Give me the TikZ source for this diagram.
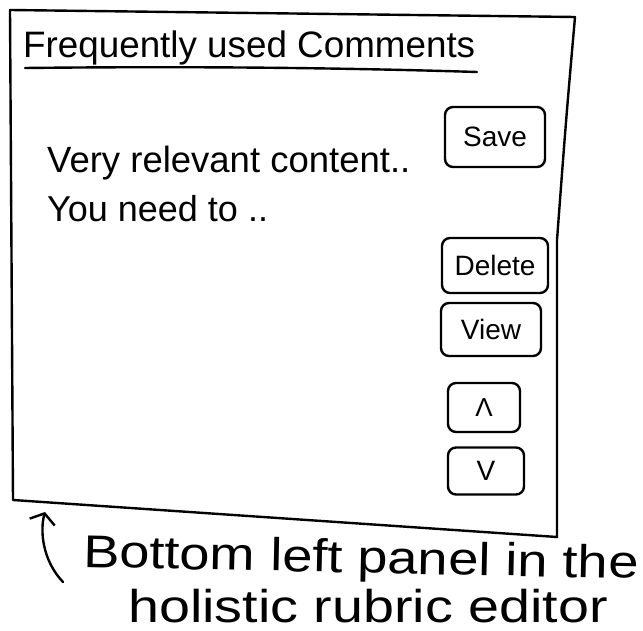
\documentclass[tikz,border=0pt]{standalone}
\usepackage{fontspec}
\setmainfont{Liberation Sans}
\usetikzlibrary{arrows.meta}
\tikzset{
  ink/.style={line width=2.4pt, line join=round, line cap=round, black},
  btn/.style={ink, draw, rounded corners=8pt, inner sep=0pt, font=\fontsize{28}{30}\selectfont},
  txt/.style={inner sep=0pt, anchor=base west},
  note/.style={txt, font=\fontsize{46}{50}\selectfont},
}
\begin{document}
\begin{tikzpicture}[x=1pt,y=-1pt]
\useasboundingbox (0,0) rectangle (643,631);
% outer panel frame
\coordinate (tl) at (10,10);
\coordinate (tr) at (575,17);
\coordinate (rm) at (557,240);
\coordinate (br) at (557,537);
\coordinate (bl) at (13,500);
\draw[ink] (tl) -- (tr) .. controls (566,120) .. (rm) -- (br) -- (bl) -- cycle;
% title
\node[txt, font=\fontsize{36.8}{40}\selectfont] (title) at (23,58) {Frequently used Comments};
\coordinate (ulA) at (25,68);
\coordinate (ulB) at (477,72);
\draw[ink] (ulA) .. controls (200,66) and (350,68) .. (ulB);
% content
\node[txt, font=\fontsize{36.5}{40}\selectfont] (c1) at (47,173) {Very relevant content..};
\node[txt, font=\fontsize{36}{40}\selectfont] (c2) at (47,222) {You need to ..};
% buttons
\node[btn, minimum width=100pt, minimum height=60pt] (save) at (495,137) {Save};
\node[btn, minimum width=106pt, minimum height=55pt] (delete) at (495,265.5) {Delete};
\node[btn, minimum width=100pt, minimum height=53pt] (view) at (491,329.5) {View};
\node[btn, minimum width=72pt, minimum height=49pt, font=\fontsize{26}{28}\selectfont] (up) at (484,407.5) {Λ};
\node[btn, minimum width=76pt, minimum height=47pt, font=\fontsize{28}{30}\selectfont] (down) at (486,471) {V};
% annotation arrow
\coordinate (arrS) at (63,582);
\coordinate (arrE) at (45,512);
\draw[ink, -{Straight Barb[length=9pt,width=26pt,line width=2.4pt]}] (arrS) .. controls (42,560) and (40,530) .. (arrE);
% annotation text
\node[note, rotate=-1.2] (n1) at (83,567) {\scalebox{1.18}[1]{Bottom left panel in the}};
\node[note] (n2) at (128,622) {\scalebox{1.21}[1]{holistic rubric editor}};
\end{tikzpicture}
\end{document}
